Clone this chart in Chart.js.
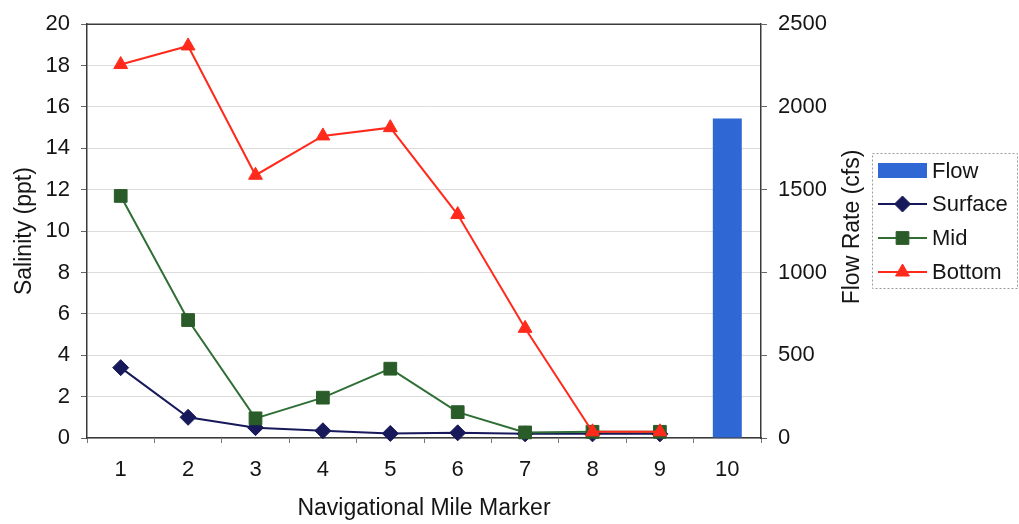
<!DOCTYPE html>
<html>
<head>
<meta charset="utf-8">
<script src="https://cdn.jsdelivr.net/npm/chart.js@4.4.1/dist/chart.umd.min.js"></script>
<style>
  html, body { margin: 0; padding: 0; background: #ffffff; }
  #wrap { width: 1019px; height: 524px; position: relative; }
  canvas { display: block; }
</style>
</head>
<body>
<div id="wrap"><canvas id="chart" width="1019" height="524"></canvas></div>
<script>
// Mile markers along the channel
const mileMarkers = ['1', '2', '3', '4', '5', '6', '7', '8', '9', '10'];

// Salinity (ppt) at each marker, by depth
const surfacePpt = [3.4, 1.0, 0.5, 0.35, 0.22, 0.25, 0.2, 0.2, 0.2, null];
const midPpt     = [11.7, 5.7, 0.95, 1.95, 3.35, 1.25, 0.27, 0.3, 0.3, null];
const bottomPpt  = [18.05, 18.95, 12.7, 14.6, 15.0, 10.8, 5.3, 0.3, 0.3, null];

// Freshwater inflow (cfs), measured at marker 10
const flowCfs = [null, null, null, null, null, null, null, null, null, 1930];

// Axis ranges: [min, max, step]
const salinityRange = [0, 20, 2];
const flowRange = [0, 2500, 500];

const FONT = "'Liberation Sans', Arial, sans-serif";
const TEXT = '#151515';
const AXIS = '#3a3a3a';

const colors = {
  flow: '#2f68d4',
  surface: '#17195a',
  midLine: '#2f6e35',
  midPoint: '#2a5c29',
  bottom: '#ff2a1c'
};

function drawMarker(ctx, style, r, x, y) {
  if (style === 'rectRot') {
    ctx.moveTo(x - r, y); ctx.lineTo(x, y - r); ctx.lineTo(x + r, y); ctx.lineTo(x, y + r); ctx.closePath();
  } else if (style === 'rect') {
    const s = Math.SQRT1_2 * r;
    ctx.rect(x - s, y - s, 2 * s, 2 * s);
  } else if (style === 'triangle') {
    const h = r * 1.5;
    ctx.moveTo(x - r * 0.866, y + h / 3);
    ctx.lineTo(x + r * 0.866, y + h / 3);
    ctx.lineTo(x, y - 2 * h / 3);
    ctx.closePath();
  }
}

// Top edge of the plot frame, right-hand axis title and boxed legend
const decorations = {
  id: 'decorations',
  afterDraw(chart) {
    const { ctx, chartArea } = chart;
    ctx.save();
    ctx.strokeStyle = AXIS;
    ctx.lineWidth = 1.5;
    ctx.beginPath();
    ctx.moveTo(chartArea.left, chartArea.top);
    ctx.lineTo(chartArea.right, chartArea.top);
    ctx.stroke();

    // right axis title, reading bottom-to-top
    ctx.fillStyle = TEXT;
    ctx.font = '23px ' + FONT;
    ctx.textAlign = 'center';
    ctx.textBaseline = 'middle';
    ctx.translate(853, 227);
    ctx.rotate(-Math.PI / 2);
    ctx.fillText('Flow Rate (cfs)', 0, 0);
    ctx.restore();

    // legend box
    ctx.save();
    const bx = 872, by = 153, bw = 145, bh = 135;
    ctx.fillStyle = '#ffffff';
    ctx.fillRect(bx, by, bw, bh);
    ctx.strokeStyle = '#9a9a9a';
    ctx.lineWidth = 1;
    ctx.setLineDash([2, 2]);
    ctx.strokeRect(bx + 0.5, by + 0.5, bw, bh);
    ctx.setLineDash([]);

    const x0 = 878, x1 = 927, xm = (x0 + x1) / 2;
    const rows = [171, 204, 238, 272];
    chart.data.datasets.forEach((ds, i) => {
      const y = rows[i];
      if (ds.type === 'bar') {
        ctx.fillStyle = ds.backgroundColor;
        ctx.fillRect(x0, y - 8, x1 - x0, 15);
      } else {
        ctx.strokeStyle = ds.borderColor;
        ctx.lineWidth = 2;
        ctx.beginPath();
        ctx.moveTo(x0, y);
        ctx.lineTo(x1, y);
        ctx.stroke();
        ctx.fillStyle = ds.pointBackgroundColor;
        ctx.strokeStyle = ds.pointBorderColor;
        ctx.lineWidth = 1;
        ctx.beginPath();
        drawMarker(ctx, ds.pointStyle, ds.pointRadius, xm, y);
        ctx.fill();
        ctx.stroke();
      }
      ctx.fillStyle = TEXT;
      ctx.font = '22px ' + FONT;
      ctx.textAlign = 'left';
      ctx.textBaseline = 'middle';
      ctx.fillText(ds.label, 932, y + 1);
    });
    ctx.restore();
  }
};

const lineDefaults = {
  type: 'line',
  yAxisID: 'y',
  borderWidth: 2,
  tension: 0,
  spanGaps: false,
  clip: false,
  pointBorderWidth: 1,
  pointHoverRadius: 0
};

const plainNumber = (v) => String(v);

new Chart(document.getElementById('chart'), {
  type: 'bar',
  data: {
    labels: mileMarkers,
    datasets: [
      {
        type: 'bar',
        label: 'Flow',
        data: flowCfs,
        yAxisID: 'y1',
        backgroundColor: colors.flow,
        borderWidth: 0,
        categoryPercentage: 1,
        barPercentage: 0.43,
        order: 4
      },
      Object.assign({}, lineDefaults, {
        label: 'Surface',
        data: surfacePpt,
        borderColor: colors.surface,
        pointStyle: 'rectRot',
        pointRadius: 8,
        pointBackgroundColor: colors.surface,
        pointBorderColor: colors.surface,
        order: 3
      }),
      Object.assign({}, lineDefaults, {
        label: 'Mid',
        data: midPpt,
        borderColor: colors.midLine,
        pointStyle: 'rect',
        pointRadius: 9,
        pointBackgroundColor: colors.midPoint,
        pointBorderColor: colors.midPoint,
        order: 2
      }),
      Object.assign({}, lineDefaults, {
        label: 'Bottom',
        data: bottomPpt,
        borderColor: colors.bottom,
        pointStyle: 'triangle',
        pointRadius: 8,
        pointBackgroundColor: colors.bottom,
        pointBorderColor: colors.bottom,
        order: 1
      })
    ]
  },
  options: {
    responsive: false,
    animation: false,
    devicePixelRatio: 1,
    layout: { padding: { left: 0, right: 0, top: 19, bottom: 0 } },
    plugins: {
      legend: { display: false },
      tooltip: { enabled: false }
    },
    scales: {
      x: {
        offset: true,
        grid: {
          offset: true,
          drawOnChartArea: false,
          drawTicks: true,
          tickLength: 5,
          tickColor: '#777777',
          lineWidth: 1
        },
        border: { display: true, color: AXIS, width: 1.5 },
        ticks: {
          color: TEXT,
          font: { family: FONT, size: 22 },
          padding: 14,
          maxRotation: 0
        },
        title: {
          display: true,
          text: 'Navigational Mile Marker',
          color: TEXT,
          font: { family: FONT, size: 23 },
          padding: { top: 0, bottom: 2 }
        },
        afterFit(scale) { scale.height = 86; }
      },
      y: {
        position: 'left',
        min: salinityRange[0],
        max: salinityRange[1],
        ticks: {
          stepSize: salinityRange[2],
          color: TEXT,
          font: { family: FONT, size: 22 },
          padding: 11,
          callback: plainNumber
        },
        grid: {
          color: '#dcdcdc',
          lineWidth: 1,
          drawTicks: true,
          tickLength: 6,
          tickColor: '#666666'
        },
        border: { display: true, color: AXIS, width: 1.5 },
        title: {
          display: true,
          text: 'Salinity (ppt)',
          color: TEXT,
          font: { family: FONT, size: 23 },
          padding: { top: 11, bottom: 0 }
        },
        afterFit(scale) { scale.width = 87; }
      },
      y1: {
        position: 'right',
        min: flowRange[0],
        max: flowRange[1],
        ticks: {
          stepSize: flowRange[2],
          color: TEXT,
          font: { family: FONT, size: 22 },
          padding: 11,
          callback: plainNumber
        },
        grid: {
          drawOnChartArea: false,
          drawTicks: true,
          tickLength: 6,
          tickColor: '#666666'
        },
        border: { display: true, color: AXIS, width: 1.5 },
        afterFit(scale) { scale.width = 258; }
      }
    }
  },
  plugins: [decorations]
});
</script>
</body>
</html>
